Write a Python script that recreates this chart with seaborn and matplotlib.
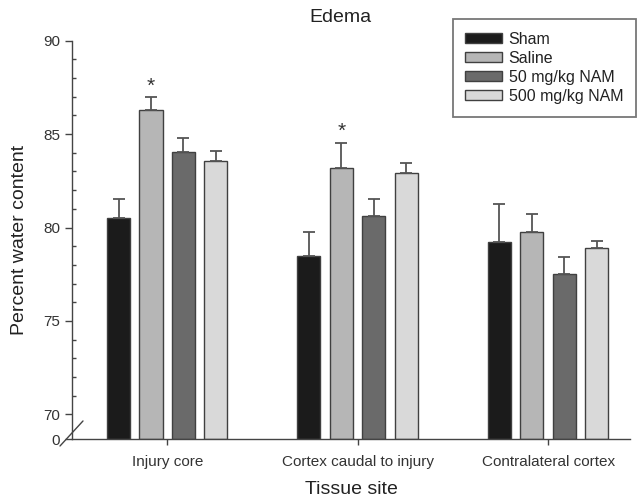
import numpy as np
import pandas as pd
import seaborn as sns
import matplotlib
matplotlib.use('Agg')
import matplotlib.pyplot as plt

# data
sites = ['Injury core', 'Cortex caudal to injury', 'Contralateral cortex']
groups = ['Sham', 'Saline', '50 mg/kg NAM', '500 mg/kg NAM']

sham = [80.5, 78.5, 79.2]
saline = [86.3, 83.2, 79.75]
nam50 = [84.05, 80.6, 77.5]
nam500 = [83.55, 82.9, 78.9]

sham_err = [1.0, 1.25, 2.05]
saline_err = [0.7, 1.35, 1.0]
nam50_err = [0.75, 0.95, 0.9]
nam500_err = [0.55, 0.55, 0.4]

# bars marked with an asterisk
significant = [('Injury core', 'Saline'), ('Cortex caudal to injury', 'Saline')]

colors = ['#1b1b1b', '#b6b6b6', '#6a6a6a', '#d9d9d9']

means = [sham, saline, nam50, nam500]
errs = [sham_err, saline_err, nam50_err, nam500_err]

df = pd.DataFrame({
    'site': sites * len(groups),
    'group': [g for g in groups for _ in sites],
    'value': [v for m in means for v in m],
})

sns.set_style('ticks')
plt.rcParams['font.family'] = ['Liberation Sans', 'DejaVu Sans']

fig = plt.figure(figsize=(6.37, 5.03), dpi=100)
ax = fig.add_axes([72 / 637, 1 - 439.3 / 503, 558 / 637, 398.6 / 503])

sns.barplot(data=df, x='site', y='value', hue='group', order=sites,
            hue_order=groups, palette=colors, errorbar=None,
            width=0.682, gap=0.29, edgecolor='#404040', linewidth=1.0,
            saturation=1, ax=ax)

# broken axis: squeeze 0-70 into a short stub
gap = 25.0 / 18.7


def forward(v):
    v = np.asarray(v, dtype=float)
    return np.where(v >= 70, v - 70 + gap, v * gap / 70)


def inverse(u):
    u = np.asarray(u, dtype=float)
    return np.where(u >= gap, u + 70 - gap, u * 70 / gap)


ax.set_yscale('function', functions=(forward, inverse))
ax.set_ylim(0, 90)
ax.set_xlim(-0.5, 2.43)

# one-sided error bars on top of each bar
for i, cont in enumerate(ax.containers[:len(groups)]):
    xs = [p.get_x() + p.get_width() / 2 for p in cont.patches]
    ax.errorbar(xs, means[i], yerr=[np.zeros(len(sites)), errs[i]],
                fmt='none', ecolor='#555555', elinewidth=1.3,
                capsize=4.5, capthick=1.3, zorder=3)

for site, grp in significant:
    gi = groups.index(grp)
    si = sites.index(site)
    p = ax.containers[gi].patches[si]
    top = means[gi][si] + errs[gi][si]
    ax.annotate('*', (p.get_x() + p.get_width() / 2, top),
                xytext=(0, 1), textcoords='offset points',
                ha='center', va='bottom', fontsize=15, color='#333333')

ax.set_yticks([0, 70, 75, 80, 85, 90])
ax.set_yticks([v for v in range(71, 90) if v % 5 != 0], minor=True)
ax.tick_params(axis='y', which='major', direction='out', length=5,
               width=1, color='#444444', labelsize=11, labelcolor='#333333')
ax.tick_params(axis='y', which='minor', direction='in', length=3,
               width=1, color='#444444')
ax.tick_params(axis='x', direction='out', length=4, width=1, pad=7,
               color='#444444', labelsize=11, labelcolor='#333333')

sns.despine(ax=ax)
for s in ['left', 'bottom']:
    ax.spines[s].set_color('#444444')
    ax.spines[s].set_linewidth(1.0)

# the break slash on the y axis
ax.plot([-0.0215, 0.0197], [-0.0168, 0.046], transform=ax.transAxes,
        color='#444444', lw=1.0, clip_on=False)

ax.set_xlabel('Tissue site', fontsize=14, color='#222222')
ax.set_ylabel('Percent water content', fontsize=14, color='#222222')
ax.xaxis.set_label_coords(0.5, -0.105)
ax.yaxis.set_label_coords(-0.079, 0.5)

fig.text(340 / 637, 1 - 17.5 / 503, 'Edema', ha='center', va='center',
         fontsize=14, color='#222222')

handles, labels = ax.get_legend_handles_labels()
if ax.get_legend() is not None:
    ax.get_legend().remove()
leg = ax.legend(handles[:4], labels[:4], loc='upper right',
                bbox_to_anchor=(636 / 637, 1 - 19 / 503),
                bbox_transform=fig.transFigure, borderaxespad=0,
                fontsize=11.5, handlelength=2.3, handleheight=0.65,
                handletextpad=0.4, labelspacing=0.25, borderpad=0.8,
                frameon=True, fancybox=False)
leg.get_frame().set_edgecolor('#555555')
leg.get_frame().set_linewidth(1.3)
for t in leg.get_texts():
    t.set_color('#222222')

plt.savefig('out.png', dpi=100)
